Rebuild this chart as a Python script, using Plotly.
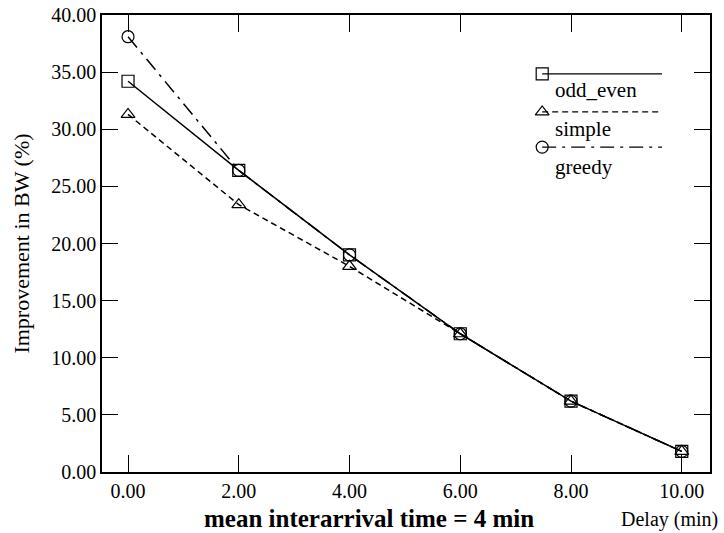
import plotly.graph_objects as go

delay = [0, 2, 4, 6, 8, 10]
odd_even = [34.2, 26.4, 19.0, 12.1, 6.2, 1.8]
simple = [31.3, 23.4, 18.0, 12.1, 6.2, 1.8]
greedy = [38.1, 26.4, 19.0, 12.1, 6.2, 1.8]

series_names = ["odd_even", "simple", "greedy"]
series_vals = [odd_even, simple, greedy]
symbols = ["square-open", "triangle-up-open", "circle-open"]
dashes = ["solid", "6px,4px", "14px,6px,3px,6px"]

x_ticks = [0, 2, 4, 6, 8, 10]
y_ticks = [0, 5, 10, 15, 20, 25, 30, 35, 40]

FONT = "Liberation Serif, Times New Roman, serif"

fig = go.Figure()
for name, vals, sym, dash in zip(series_names, series_vals, symbols, dashes):
    fig.add_trace(go.Scatter(
        x=delay, y=vals, mode="lines+markers", name=name,
        line=dict(color="black", width=1.5, dash=dash),
        marker=dict(symbol=sym, size=12, color="black", line=dict(width=1.2, color="black")),
        showlegend=False,
    ))

# custom legend: marker + line, label below (overlay axis spanning plot area, 0..1)
leg_line_y = [0.871, 0.788, 0.711]
leg_text_y = [0.836, 0.751, 0.667]
for name, sym, dash, ly, ty in zip(series_names, symbols, dashes, leg_line_y, leg_text_y):
    fig.add_trace(go.Scatter(
        x=[0.724, 0.921], y=[ly, ly], mode="lines", xaxis="x2", yaxis="y2",
        line=dict(color="black", width=1.2, dash=dash), showlegend=False, hoverinfo="skip",
    ))
    fig.add_trace(go.Scatter(
        x=[0.724], y=[ly], mode="markers", xaxis="x2", yaxis="y2",
        marker=dict(symbol=sym, size=12, color="black", line=dict(width=1.2, color="black")),
        showlegend=False, hoverinfo="skip",
    ))
    fig.add_annotation(x=0.742, y=ty, xref="x2", yref="y2", text=name,
                       showarrow=False, xanchor="left", yanchor="middle",
                       font=dict(family=FONT, size=21, color="black"))

fig.update_layout(
    width=724, height=533,
    margin=dict(l=102, r=14, t=15, b=61, autoexpand=False),
    paper_bgcolor="white", plot_bgcolor="white",
    font=dict(family=FONT, size=18, color="black"),
    xaxis=dict(
        range=[-0.47, 10.51], tickvals=x_ticks,
        ticktext=[f"{v:.2f}" for v in x_ticks],
        ticks="inside", ticklen=17, tickwidth=1, tickcolor="black",
        showline=True, linecolor="black", linewidth=1.5, mirror="ticks",
        showgrid=False, zeroline=False, automargin=False,
        tickfont=dict(family=FONT, size=20),
    ),
    yaxis=dict(
        range=[0, 40], tickvals=y_ticks,
        ticktext=[f"{v:.2f}" for v in y_ticks],
        ticks="inside", ticklen=16, tickwidth=1, tickcolor="black",
        showline=True, linecolor="black", linewidth=1.5, mirror="ticks",
        showgrid=False, zeroline=False, automargin=False,
        tickfont=dict(family=FONT, size=20),
        title=dict(text="Improvement in BW (%)", font=dict(family=FONT, size=22), standoff=16),
    ),
    xaxis2=dict(domain=[0, 1], range=[0, 1], visible=False, overlaying="x", anchor="y2"),
    yaxis2=dict(domain=[0, 1], range=[0, 1], visible=False, overlaying="y", anchor="x2"),
)

fig.add_annotation(x=0.164, y=-0.101, xref="paper", yref="paper",
                   text="<b>mean interarrival time = 4 min</b>", showarrow=False,
                   xanchor="left", yanchor="middle",
                   font=dict(family=FONT, size=25, color="black"))
fig.add_annotation(x=1.016, y=-0.103, xref="paper", yref="paper",
                   text="Delay (min)", showarrow=False,
                   xanchor="right", yanchor="middle",
                   font=dict(family=FONT, size=20, color="black"))

fig.write_html("out.html", config={"displayModeBar": False},
               post_script="document.body.style.margin='0';")
